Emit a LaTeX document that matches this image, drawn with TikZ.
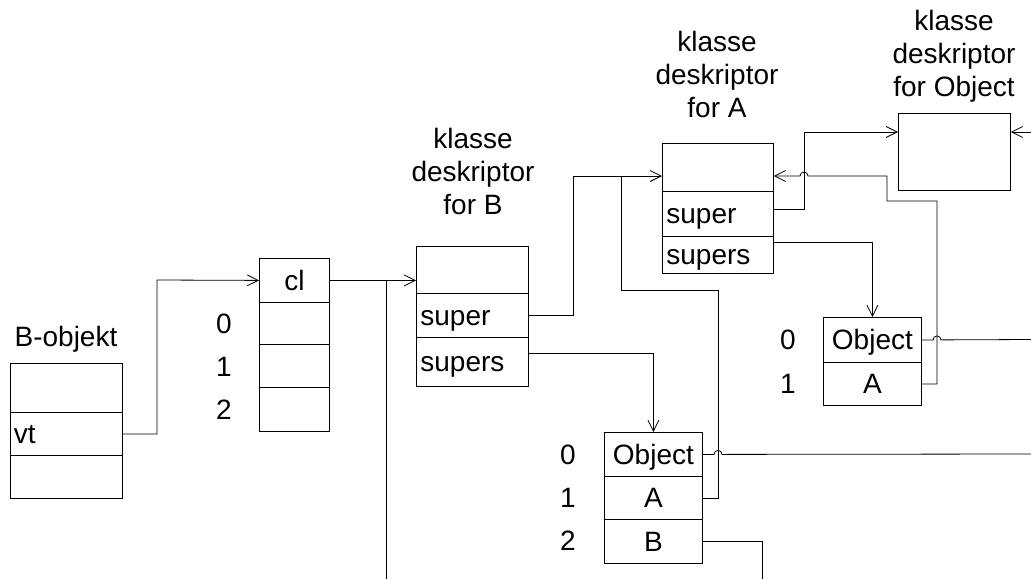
\documentclass[tikz,border=0pt]{standalone}
\usepackage{fontspec}
\setmainfont{Liberation Sans}
\usetikzlibrary{arrows.meta,calc}
\begin{document}
\begin{tikzpicture}[x=1pt,y=-1pt,
  font=\fontsize{28}{33}\selectfont,
  line width=0.8pt,
  cell/.style={draw, anchor=north west, inner sep=0pt, text height=20pt, text depth=0pt},
  lcell/.style={cell, text width=#1, align=left},
  lbl/.style={inner sep=0pt, text height=20pt, text depth=0pt},
  title/.style={inner sep=0pt, anchor=base, align=center},
  arr/.style={-{Straight Barb[length=11pt,width=11pt,line width=0.8pt]}}
]
\useasboundingbox (0,0) rectangle (1031,579);

% B-objekt
\node[title] (bolbl) at (66,346) {B-objekt};
\node[cell, minimum width=112pt, minimum height=49pt] (bo0) at (10,363) {};
\node[lcell=105pt, minimum width=112pt, minimum height=43pt] (bo1) at (10,412) {vt};
\node[cell, minimum width=112pt, minimum height=43pt] (bo2) at (10,455) {};

% virtual table
\node[cell, minimum width=70pt, minimum height=44pt] (v0) at (259,258) {cl};
\node[cell, minimum width=70pt, minimum height=42pt] (v1) at (259,302) {};
\node[cell, minimum width=70pt, minimum height=43pt] (v2) at (259,344) {};
\node[cell, minimum width=70pt, minimum height=44pt] (v3) at (259,387) {};
\node[lbl] (vl0) at (224,323) {0};
\node[lbl] (vl1) at (224,366) {1};
\node[lbl] (vl2) at (224,409) {2};

% klasse deskriptor for B
\node[title] (dbl) at (473,214) {klasse\\deskriptor\\for B};
\node[cell, minimum width=112pt, minimum height=47pt] (db0) at (416,246) {};
\node[lcell=104pt, minimum width=112pt, minimum height=44pt] (db1) at (416,293) {super};
\node[lcell=104pt, minimum width=112pt, minimum height=49pt] (db2) at (416,337) {supers};

% klasse deskriptor for A
\node[title] (dal) at (717,117) {klasse\\deskriptor\\for A};
\node[cell, minimum width=111pt, minimum height=48pt] (da0) at (662,143) {};
\node[lcell=103pt, minimum width=111pt, minimum height=45pt] (da1) at (662,191) {super};
\node[lcell=103pt, minimum width=111pt, minimum height=37pt] (da2) at (662,236) {supers};

% klasse deskriptor for Object
\node[title] (obl) at (954,96) {klasse\\deskriptor\\for Object};
\node[cell, minimum width=112pt, minimum height=77pt] (ob) at (898,113) {};

% supers table of A
\node[cell, minimum width=98pt, minimum height=45pt] (rt0) at (823,317) {Object};
\node[cell, minimum width=98pt, minimum height=43pt] (rt1) at (823,362) {A};
\node[lbl] (rl0) at (788,339) {0};
\node[lbl] (rl1) at (788,383) {1};

% supers table of B
\node[cell, minimum width=98pt, minimum height=44pt] (bt0) at (604,432) {Object};
\node[cell, minimum width=98pt, minimum height=43pt] (bt1) at (604,476) {A};
\node[cell, minimum width=98pt, minimum height=44pt] (bt2) at (604,519) {B};
\node[lbl] (bl0) at (568,454) {0};
\node[lbl] (bl1) at (568,497) {1};
\node[lbl] (bl2) at (568,540) {2};

% helper coordinates
\coordinate (k1) at (157,280);
\coordinate (j1) at (386,280);
\coordinate (e1) at (386,579);
\coordinate (k2) at (573,176);
\coordinate (k3) at (621,176);
\coordinate (k3b) at (718,290);
\coordinate (k4) at (804,132);
\coordinate (k6) at (937,201);
\coordinate (k7) at (887,176);
\coordinate (e2) at (1031,454);
\coordinate (e3) at (1031,132);
\coordinate (e4) at (1031,339.5);
\coordinate (e5) at (762,579);

% connectors
\draw[arr] (bo1.east) -| (k1) -- (v0.west);
\draw[arr] (v0.east) -- (v0.east -| db0.west);
\draw (j1) -- (e1);
\draw[arr] (db1.east) -| (k2) -- (k2 -| da0.west);
\draw (bt1.east) -| (k3b) -| (k3);
\draw[arr] (db2.east) ++(0,-9) -| (bt0.north);
\draw[arr] (da1.east) ++(0,-5) -| (k4) -- (k4 -| ob.west);
\draw[arr] (da2.east) ++(0,-13) -| (rt0.north);
\draw[arr] (rt1.east) -| (k6) -| (k7) -- ($(k4 |- k7)+(4,0)$)
  arc[start angle=0, end angle=180, radius=4pt] -- (k7 -| da0.east);
\draw (rt0.east) -- ($(k6 |- rt0.east)+(-4,0)$)
  arc[start angle=180, end angle=0, radius=4pt] -- (e4);
\draw (bt0.east) -- ($(k3b |- bt0.east)+(-4,0)$)
  arc[start angle=180, end angle=0, radius=4pt] -- (e2);
\draw (bt2.east) -| (e5);
\draw[arr] (e3) -- (e3 -| ob.east);
\end{tikzpicture}
\end{document}
